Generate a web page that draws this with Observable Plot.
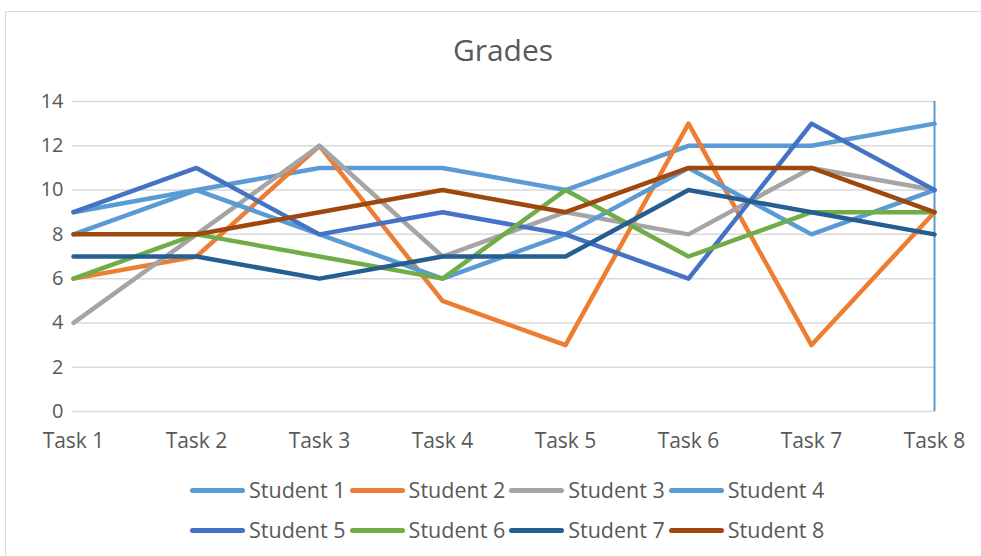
<!DOCTYPE html>
<html>
<head>
<meta charset="utf-8">
<script src="https://cdn.jsdelivr.net/npm/d3@7"></script>
<script src="https://cdn.jsdelivr.net/npm/@observablehq/plot@0.6"></script>
<style>
  html, body { margin: 0; padding: 0; background: #fff; }
  #wrap { position: relative; width: 981px; height: 556px; overflow: hidden; font-family: "Open Sans", "Noto Sans", sans-serif; }
  #frame { position: absolute; left: 5px; top: 11px; width: 990px; height: 560px; border: 1px solid #d9d9d9; box-sizing: border-box; }
  #title { position: absolute; left: 0; width: 1006px; top: 35px; line-height: 30px; text-align: center; font-size: 30px; color: #595959; }
  #chart { position: absolute; left: 0; top: 75px; }
  #legend { position: absolute; left: 190px; top: 470px; width: 700px; }
  .row { display: flex; height: 40px; align-items: center; }
  .item { display: flex; align-items: center; margin-right: 4px; font-size: 21.5px; color: #595959; line-height: 1; }
  .sw { display: inline-block; width: 55px; height: 5px; border-radius: 2.5px; margin-right: 4px; }
</style>
</head>
<body>
<div id="wrap">
  <div id="frame"></div>
  <div id="title">Grades</div>
  <div id="chart"></div>
  <div id="legend"></div>
</div>
<script>
const tasks = ["Task 1", "Task 2", "Task 3", "Task 4", "Task 5", "Task 6", "Task 7", "Task 8"];
const studentNames = ["Student 1", "Student 2", "Student 3", "Student 4", "Student 5", "Student 6", "Student 7", "Student 8"];
const student1 = [9, 10, 11, 11, 10, 12, 12, 13];
const student2 = [6, 7, 12, 5, 3, 13, 3, 9];
const student3 = [4, 8, 12, 7, 9, 8, 11, 10];
const student4 = [8, 10, 8, 6, 8, 11, 8, 10];
const student5 = [9, 11, 8, 9, 8, 6, 13, 10];
const student6 = [6, 8, 7, 6, 10, 7, 9, 9];
const student7 = [7, 7, 6, 7, 7, 10, 9, 8];
const student8 = [8, 8, 9, 10, 9, 11, 11, 9];
const colors = ["#5B9BD5", "#ED7D31", "#A5A5A5", "#5B9BD5", "#4472C4", "#70AD47", "#255E91", "#9E480E"];
const yTicks = [0, 2, 4, 6, 8, 10, 12, 14];

const series = [student1, student2, student3, student4, student5, student6, student7, student8];
const rows = [];
series.forEach((vals, i) => vals.forEach((v, j) => rows.push({student: studentNames[i], task: tasks[j], grade: v})));

const chart = Plot.plot({
  width: 981,
  height: 385,
  marginLeft: 72,
  marginRight: 46,
  marginTop: 26,
  marginBottom: 49,
  style: { fontFamily: "'Open Sans', 'Noto Sans', sans-serif", fontSize: "21px", color: "#595959", background: "transparent", overflow: "visible" },
  x: { type: "point", domain: tasks, padding: 0, label: null },
  y: { domain: [0, 14], label: null },
  color: { domain: studentNames, range: colors },
  marks: [
    Plot.gridY(yTicks, { stroke: "#d9d9d9", strokeOpacity: 1, strokeWidth: 1.5 }),
    Plot.axisY(yTicks, { tickSize: 0, tickPadding: 9, label: null, fontSize: 20 }),
    Plot.axisX({ tickSize: 0, tickPadding: 22, label: null, fontSize: 21 }),
    Plot.ruleX([tasks[tasks.length - 1]], { stroke: "#5B9BD5", strokeWidth: 2 }),
    Plot.line(rows, { x: "task", y: "grade", z: "student", stroke: "student", strokeWidth: 4.5, strokeLinejoin: "round", strokeLinecap: "round" })
  ]
});
document.getElementById("chart").appendChild(chart);

const legend = document.getElementById("legend");
for (let r = 0; r < 2; r++) {
  const row = document.createElement("div");
  row.className = "row";
  for (let c = 0; c < 4; c++) {
    const i = r * 4 + c;
    const item = document.createElement("div");
    item.className = "item";
    const sw = document.createElement("span");
    sw.className = "sw";
    sw.style.background = colors[i];
    const t = document.createElement("span");
    t.textContent = studentNames[i];
    item.appendChild(sw);
    item.appendChild(t);
    row.appendChild(item);
  }
  legend.appendChild(row);
}
</script>
</body>
</html>
